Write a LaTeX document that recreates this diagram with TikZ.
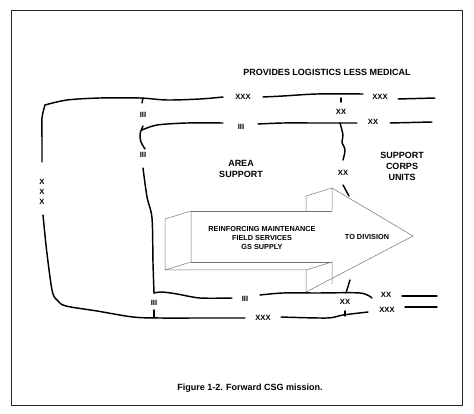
\documentclass[tikz,border=0pt]{standalone}
\usepackage{fontspec}
\setmainfont{Liberation Sans}
\begin{document}
\begin{tikzpicture}[x=1pt,y=-1pt,
  bnd/.style={line width=1.45pt, line cap=round, line join=round},
  arr/.style={line width=0.5pt, draw=black!55, line join=miter},
  lbl/.style={font=\fontsize{7.6}{8}\selectfont\bfseries, inner sep=0pt},
  big/.style={font=\fontsize{9}{11}\selectfont\bfseries, inner sep=0pt, align=center},
  sml/.style={font=\fontsize{7.3}{9}\selectfont\bfseries, inner sep=0pt, align=center}]
\useasboundingbox (0,0) rectangle (474,414);
\draw[line width=0.9pt, draw=black!85] (11,10) rectangle (462,405);

% title and caption
\node[big] (title) at (327,72) {PROVIDES LOGISTICS LESS MEDICAL};
\node[big] (caption) at (250,388) {Figure 1-2. Forward CSG mission.};

% corps boundary (XXX), top
\draw[bnd] plot[smooth] coordinates {(45,105) (67,100) (100,98) (140,98) (167,100) (200,99) (223,97)};
\node[lbl] (xxxt1) at (243,97) {XXX};
\draw[bnd] plot[smooth] coordinates {(263,97) (283,96) (317,94) (363,94)};
\node[lbl] (xxxt2) at (380,97) {XXX};
\draw[bnd] (398,99) -- (435,98);
\draw[bnd] (143,98) -- (142,103);
\draw[bnd] (341,98) -- (341,102);
\node[lbl] (iiit) at (143,115) {III};
\node[lbl] (xxt) at (341,112) {XX};

% corps boundary, left and bottom
\draw[bnd] plot[smooth] coordinates {(45,105) (42,118) (42,140) (42,162)};
\node[lbl] (xa) at (42,182) {X};
\node[lbl] (xb) at (42,192) {X};
\node[lbl] (xc) at (42,202) {X};
\draw[bnd] plot[smooth, tension=0.55] coordinates {(43,215) (46,245) (50,277) (53,294) (58,301) (66,306) (97,311) (133,317) (160,318) (200,318) (245,318)};
\node[lbl] (xxxb1) at (263,318) {XXX};
\draw[bnd] plot[smooth] coordinates {(281,317) (327,318) (343,315) (368,312)};
\node[lbl] (xxxb2) at (387,310) {XXX};
\draw[bnd] (405,307) -- (437,307);
\draw[bnd] (154,310) -- (154,318);
\draw[bnd] (345,311) -- (345,316);
\node[lbl] (iiib) at (154,303) {III};
\node[lbl] (xxb) at (345,302) {XX};

% brigade boundary (III)
\draw[bnd] plot[smooth] coordinates {(223,123) (187,123) (157,125) (142,130)};
\draw[bnd] plot[smooth] coordinates {(143,126) (140,134) (141,142) (145,149)};
\node[lbl] (iii1) at (241,127) {III};
\draw[bnd] plot[smooth] coordinates {(258,124) (283,123) (317,123) (357,123)};
\node[lbl] (xx1) at (373,122) {XX};
\draw[bnd] (390,123) -- (432,122);
\node[lbl] (iii2) at (143,155) {III};
\draw[bnd] plot[smooth] coordinates {(143,168) (147,197) (152,218) (153,263) (154,293)};
\draw[bnd] plot[smooth] coordinates {(154,293) (162,292) (177,294) (200,298) (232,298)};
\node[lbl] (iii3) at (245,299) {III};
\draw[bnd] plot[smooth] coordinates {(260,295) (283,293) (317,293) (360,293) (372,298)};
\node[lbl] (xx2) at (386,295) {XX};
\draw[bnd] (402,296) -- (437,296);

% division boundary (XX)
\draw[bnd] plot[smooth] coordinates {(340,123) (343,135) (342,142) (345,150) (343,160)};
\node[lbl] (xx3) at (343,173) {XX};
\draw[bnd] (343,185) -- (349,196);
\draw[bnd] (350,280) -- (346,293);

% area labels
\node[big] (area) at (241,169) {AREA\\SUPPORT};
\node[big] (corps) at (402,166) {SUPPORT\\CORPS\\UNITS};

% 3-D arrow
\draw[arr] (165,219) -- (191,211) -- (191,262) -- (165,270) -- cycle;
\draw[arr] (191,211) -- (332,211);
\draw[arr] (306,211) -- (306,196) -- (332,188) -- (332,211);
\draw[arr] (332,188) -- (413,236) -- (306,292) -- (306,270);
\draw[arr] (165,270) -- (306,270) -- (332,262) -- (332,284);
\draw[arr] (191,262) -- (332,262);
\node[sml] (load) at (262,238) {REINFORCING MAINTENANCE\\FIELD SERVICES\\GS SUPPLY};
\node[sml] (todiv) at (367,237) {TO DIVISION};
\end{tikzpicture}
\end{document}
